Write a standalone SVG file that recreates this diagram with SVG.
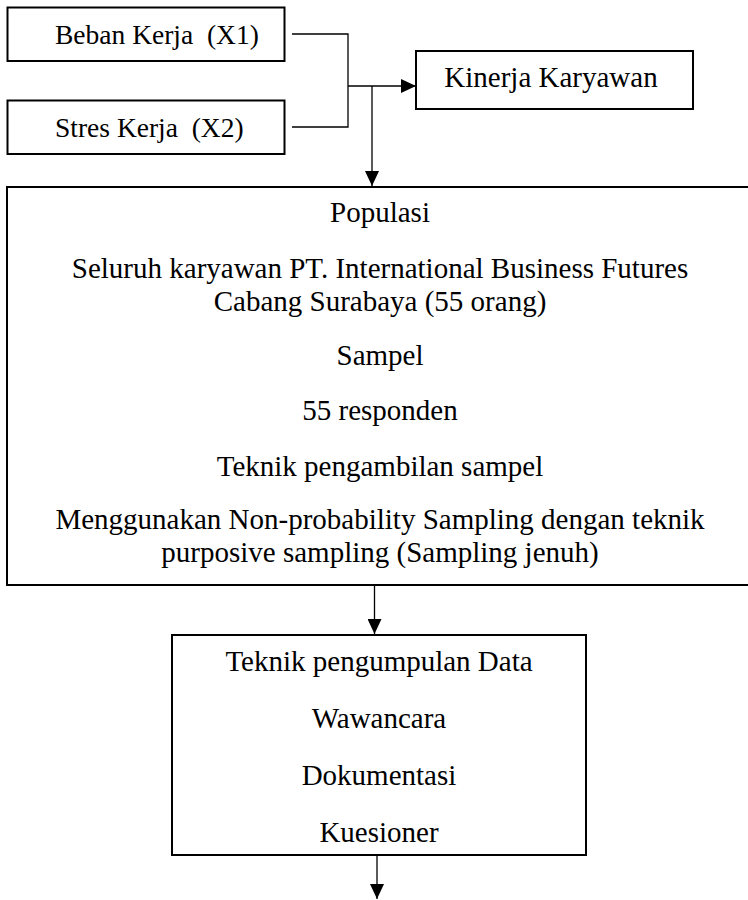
<svg xmlns="http://www.w3.org/2000/svg" width="748" height="900" viewBox="0 0 748 900">
<defs>
<marker id="arrow" markerWidth="15" markerHeight="14" refX="15" refY="7" orient="auto" markerUnits="userSpaceOnUse"><path d="M0,0 L15,7 L0,14 Z" fill="#000"/></marker>
<style>
.box{fill:#fff;stroke:#000;stroke-width:2}
.lbl{font-family:"Liberation Serif","Times New Roman",serif;fill:#000;font-size:29px}
.sm{font-size:27.5px}
.mid{text-anchor:middle}
.conn{fill:none;stroke:#000;stroke-width:1.3}
</style>
</defs>
<rect width="748" height="900" fill="#fff"/>
<g id="beban">
<rect class="box" x="7.5" y="7.5" width="277" height="53.5"/>
<text class="lbl sm" x="55" y="44" xml:space="preserve">Beban Kerja  (X1)</text>
</g>
<g id="stres">
<rect class="box" x="7.5" y="100.5" width="277" height="53.5"/>
<text class="lbl sm" x="55" y="137" xml:space="preserve">Stres Kerja  (X2)</text>
</g>
<g id="kinerja">
<rect class="box" x="416" y="51" width="277" height="58"/>
<text class="lbl mid" x="551" y="87">Kinerja Karyawan</text>
</g>
<g id="populasi">
<rect class="box" x="7" y="187" width="744" height="398"/>
<text class="lbl mid" x="380" y="222">Populasi</text>
<text class="lbl mid" x="380" y="278">Seluruh karyawan PT. International Business Futures</text>
<text class="lbl mid" x="380" y="311">Cabang Surabaya (55 orang)</text>
<text class="lbl mid" x="380" y="365">Sampel</text>
<text class="lbl mid" x="380" y="420">55 responden</text>
<text class="lbl mid" x="380" y="476">Teknik pengambilan sampel</text>
<text class="lbl mid" x="380" y="529">Menggunakan Non-probability Sampling dengan teknik</text>
<text class="lbl mid" x="380" y="562">purposive sampling (Sampling jenuh)</text>
</g>
<g id="pengumpulan">
<rect class="box" x="172" y="635" width="414" height="220"/>
<text class="lbl mid" x="379" y="671">Teknik pengumpulan Data</text>
<text class="lbl mid" x="379" y="728">Wawancara</text>
<text class="lbl mid" x="379" y="785">Dokumentasi</text>
<text class="lbl mid" x="379" y="842">Kuesioner</text>
</g>
<g id="connectors">
<path class="conn" d="M292,34 H348 V127 H292"/>
<path class="conn" d="M348,86 H416" marker-end="url(#arrow)"/>
<path class="conn" d="M372,86 V186" marker-end="url(#arrow)"/>
<path class="conn" d="M374.5,586 V634" marker-end="url(#arrow)"/>
<path class="conn" d="M377,856 V899" marker-end="url(#arrow)"/>
</g>
</svg>
